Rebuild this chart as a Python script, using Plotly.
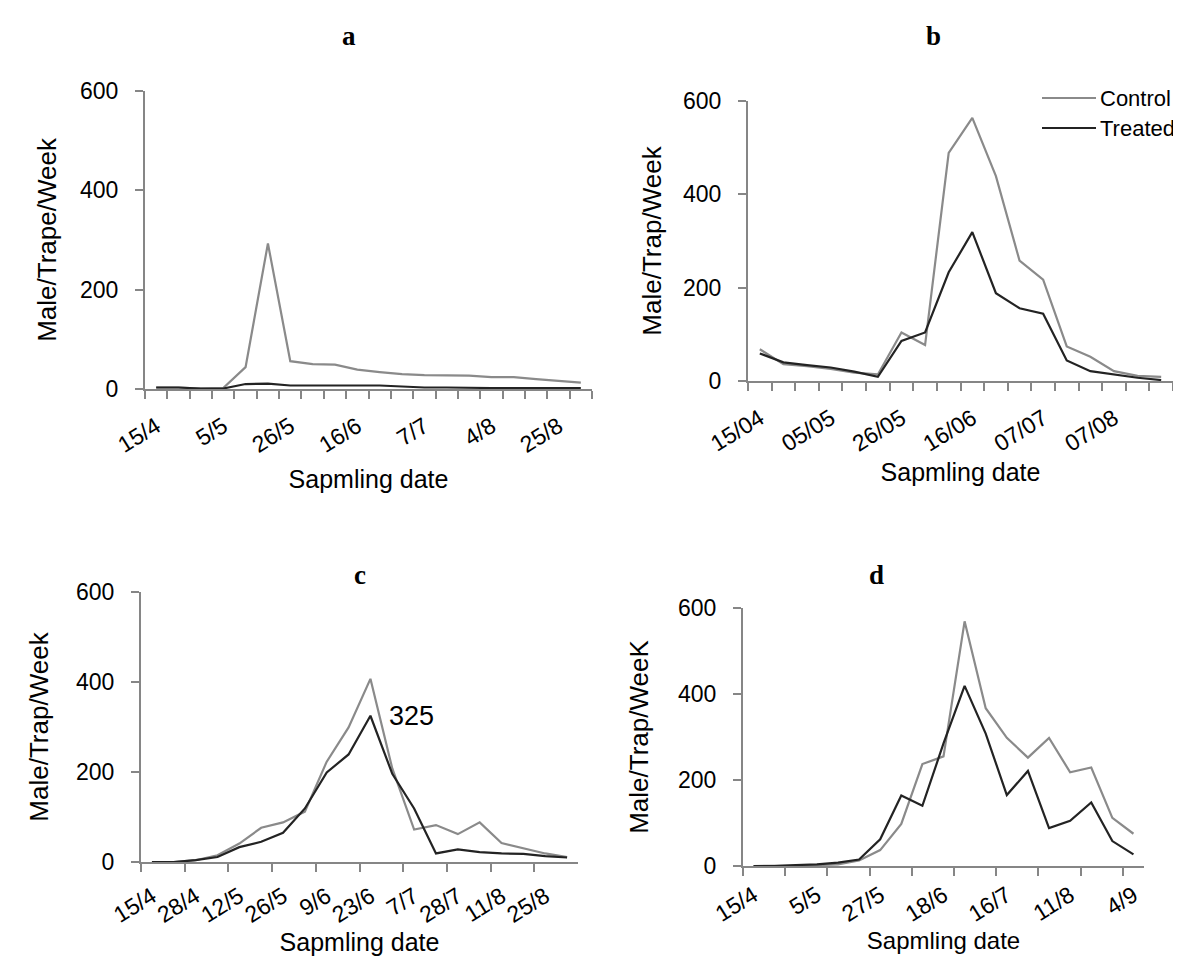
import plotly.graph_objects as go

W, H = 1181, 958

# ---------------- data ----------------
# Panel a (20 weekly samplings)
a_control = [3, 3, 1, 2, 44, 293, 56, 50, 49, 39, 34, 30, 28, 27, 27, 24, 24, 20, 17, 13]
a_treated = [3, 3, 1, 1, 10, 11, 7, 7, 8, 8, 7, 5, 3, 3, 2, 2, 2, 2, 2, 2]
a_ticklabels = ["15/4", "5/5", "26/5", "16/6", "7/7", "4/8", "25/8"]

# Panel b (18 samplings)
b_control = [68, 36, 32, 26, 18, 14, 104, 77, 489, 564, 439, 258, 217, 74, 52, 21, 11, 9]
b_treated = [59, 40, 34, 29, 20, 9, 86, 104, 233, 319, 188, 156, 144, 44, 21, 14, 7, 2]
b_ticklabels = ["15/04", "05/05", "26/05", "16/06", "07/07", "07/08"]

# Panel c (20 samplings)
c_control = [0, 0, 4, 15, 41, 76, 88, 112, 223, 299, 407, 208, 72, 82, 62, 88, 42, 30, 19, 11]
c_treated = [0, 0, 4, 11, 33, 45, 65, 119, 199, 239, 325, 196, 119, 19, 28, 22, 19, 18, 13, 10]
c_ticklabels = ["15/4", "28/4", "12/5", "26/5", "9/6", "23/6", "7/7", "28/7", "11/8", "25/8"]
c_note = "325"

# Panel d (19 samplings)
d_control = [0, 0, 1, 2, 4, 13, 37, 98, 237, 255, 569, 367, 298, 252, 298, 218, 229, 112, 75]
d_treated = [0, 0, 2, 4, 8, 15, 62, 164, 140, 285, 419, 308, 165, 221, 88, 105, 148, 58, 27]
d_ticklabels = ["15/4", "5/5", "27/5", "18/6", "16/7", "11/8", "4/9"]

panel_titles = ["a", "b", "c", "d"]
y_titles = ["Male/Trape/Week", "Male/Trap/Week", "Male/Trap/Week", "Male/Trap/WeeK"]
x_title = "Sapmling date"
series_names = ["Control", "Treated"]
y_ticks = [0, 200, 400, 600]

# ---------------- style ----------------
GRAY_LINE = "#8a8a8a"
DARK_LINE = "#232323"
AXIS_COL = "#868686"
FONT = "Liberation Sans, Arial, sans-serif"
SERIF = "Liberation Serif, Times New Roman, serif"

# panel boxes in pixels: (x0, x1, ytop, ybottom), label step, minor tick step,
# tick-label standoff, title standoffs, x-title size
panels = [
    dict(ctrl=a_control, trt=a_treated, labels=a_ticklabels, box=(137, 584, 83, 381), lstep=3, mstep=1, tls=13, yso=16, xso=14, xts=25),
    dict(ctrl=b_control, trt=b_treated, labels=b_ticklabels, box=(740, 1165, 93, 373), lstep=3, mstep=1, tls=13, yso=14, xso=8, xts=25),
    dict(ctrl=c_control, trt=c_treated, labels=c_ticklabels, box=(133, 570, 584, 854), lstep=2, mstep=2, tls=10, yso=20, xso=1, xts=25),
    dict(ctrl=d_control, trt=d_treated, labels=d_ticklabels, box=(735, 1136, 600, 858), lstep=3, mstep=2, tls=5, yso=22, xso=0, xts=24),
]

fig = go.Figure()
layout = dict()
annotations = []
shapes = []

for i, p in enumerate(panels):
    n = len(p["ctrl"])
    xs = list(range(1, n + 1))
    sfx = "" if i == 0 else str(i + 1)
    xref, yref = "x" + sfx, "y" + sfx
    fig.add_trace(go.Scatter(x=xs, y=p["ctrl"], mode="lines", name=series_names[0],
                             line=dict(color=GRAY_LINE, width=2.2), xaxis=xref, yaxis=yref,
                             showlegend=False))
    fig.add_trace(go.Scatter(x=xs, y=p["trt"], mode="lines", name=series_names[1],
                             line=dict(color=DARK_LINE, width=2.2), xaxis=xref, yaxis=yref,
                             showlegend=False))
    x0, x1, yt, yb = p["box"]
    tickpos = list(range(1, n + 1, p["lstep"]))[:len(p["labels"])]
    minor_vals = [k + 0.5 for k in range(0, n, p["mstep"])]
    if p["mstep"] == 1:
        minor_vals.append(n + 0.5)
    layout["xaxis" + sfx] = dict(
        domain=[x0 / W, x1 / W], anchor=yref, range=[0.5, n + 0.5],
        tickmode="array", tickvals=tickpos, ticktext=p["labels"], ticks="",
        tickangle=-32, ticklabelstandoff=p["tls"],
        tickfont=dict(family=FONT, size=23, color="black"),
        showline=True, linecolor=AXIS_COL, linewidth=2, showgrid=False, zeroline=False,
        automargin=False,
        minor=dict(tickmode="array", tickvals=minor_vals, ticks="outside", ticklen=8,
                   tickcolor=AXIS_COL, tickwidth=2, showgrid=False),
        title=dict(text=x_title, font=dict(family=FONT, size=p["xts"], color="black"), standoff=p["xso"]),
    )
    layout["yaxis" + sfx] = dict(
        domain=[1 - yb / H, 1 - yt / H], anchor=xref, range=[0, 600],
        tickmode="array", tickvals=y_ticks, ticks="outside", ticklen=8,
        tickcolor=AXIS_COL, tickwidth=2, ticklabelstandoff=12,
        tickfont=dict(family=FONT, size=23, color="black"),
        showline=True, linecolor=AXIS_COL, linewidth=2, showgrid=False, zeroline=False,
        automargin=False,
        title=dict(text=y_titles[i], font=dict(family=FONT, size=26, color="black"), standoff=p["yso"]),
    )

# panel letters
title_pos = [(341, 28), (925, 28), (352, 567), (868, 567)]
for t, (tx, ty) in zip(panel_titles, title_pos):
    annotations.append(dict(text="<b>%s</b>" % t, x=tx / W, y=1 - ty / H, xref="paper", yref="paper",
                            showarrow=False, xanchor="center", yanchor="middle",
                            font=dict(family=SERIF, size=27, color="black")))

# value note in panel c
annotations.append(dict(text=c_note, x=12.9, y=c_treated[10], xref="x3", yref="y3", showarrow=False,
                        xanchor="center", yanchor="middle",
                        font=dict(family=FONT, size=27, color="black")))

# legend of panel b (line keys + labels)
legend_rows = [(series_names[0], GRAY_LINE, 90), (series_names[1], DARK_LINE, 120)]
for name, col, ly in legend_rows:
    shapes.append(dict(type="line", xref="paper", yref="paper",
                       x0=1034 / W, x1=1088 / W, y0=1 - ly / H, y1=1 - ly / H,
                       line=dict(color=col, width=2.2)))
    annotations.append(dict(text=name, x=1090 / W, y=1 - ly / H, xref="paper", yref="paper",
                            showarrow=False, xanchor="left", yanchor="middle",
                            font=dict(family=FONT, size=22, color="black")))

fig.update_layout(
    width=W, height=H, margin=dict(l=0, r=0, t=0, b=0),
    plot_bgcolor="white", paper_bgcolor="white",
    annotations=annotations, shapes=shapes, showlegend=False,
    **layout,
)

fig.write_html("out.html")
